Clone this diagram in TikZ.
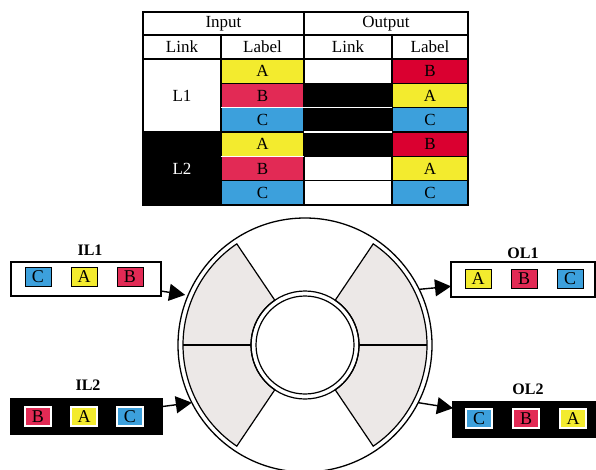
\documentclass[tikz,border=0pt]{standalone}
\usepackage{fontspec}
\setmainfont{Liberation Serif}
\usetikzlibrary{positioning, arrows.meta}
\definecolor{tagyellow}{HTML}{F3EB2E}
\definecolor{tagpink}{HTML}{E22A55}
\definecolor{tagblue}{HTML}{3CA0DC}
\definecolor{tagred}{HTML}{DA0030}
\definecolor{sectorgray}{HTML}{ECE8E7}

\begin{document}
\begin{tikzpicture}[x=1pt, y=-1pt, node distance=20pt,
	every node/.style={inner sep=0pt, outer sep=0pt, font=\fontsize{17}{17}\selectfont},
	cell/.style={draw, line width=1.2pt, minimum height=24.33pt},
	tag/.style={draw, line width=1pt, minimum width=26pt, minimum height=19pt, font=\fontsize{18}{18}\selectfont},
	linkbox/.style={draw, line width=1.5pt, minimum height=35pt},
	boxname/.style={font=\bfseries\fontsize{16}{16}\selectfont},
	sector/.style={draw, line width=1.2pt, fill=sectorgray},
	arr/.style={-{Triangle[length=16pt, width=17pt]}, line width=1.4pt}]
	\useasboundingbox (0,0) rectangle (596,469);
	\clip (0,0) rectangle (596,469);
	% table
	\node[cell, minimum width=161pt, minimum height=23pt] (hin) at (223.5,23.5) {Input};
	\node[cell, minimum width=164pt, minimum height=23pt] (hout) at (386,23.5) {Output};
	\node[cell, minimum width=78pt, minimum height=24pt] (hinlink) at (182,47) {Link};
	\node[cell, minimum width=83pt, minimum height=24pt] (hinlab) at (262.5,47) {Label};
	\node[cell, minimum width=88pt, minimum height=24pt] (houtlink) at (348,47) {Link};
	\node[cell, minimum width=76pt, minimum height=24pt] (houtlab) at (430,47) {Label};
	\node[cell, minimum width=78pt, minimum height=73pt] (l1) at (182,95.5) {L1};
	\node[cell, fill=black, text=white, minimum width=78pt, minimum height=73pt] (l2) at (182,168.5) {L2};
	\foreach \lab/\col [count=\r] in {A/tagyellow, B/tagpink, C/tagblue, A/tagyellow, B/tagpink, C/tagblue}
		\node[cell, fill=\col, minimum width=83pt] (inlab\r) at (262.5,{59+24.33*(\r-0.5)}) {\lab};
	\foreach \col [count=\r] in {white, black, black, black, white, white}
		\node[cell, fill=\col, minimum width=88pt] (outlink\r) at (348,{59+24.33*(\r-0.5)}) {};
	\foreach \lab/\col [count=\r] in {B/tagred, A/tagyellow, C/tagblue, B/tagred, A/tagyellow, C/tagblue}
		\node[cell, fill=\col, minimum width=76pt] (outlab\r) at (430,{59+24.33*(\r-0.5)}) {\lab};
	\draw[white, line width=1.5pt] (inlab2.south west) -- (outlink2.south east);
	\draw[white, line width=1.5pt] (outlink3.south west) -- (outlink3.south east);
	\draw[white, line width=1.5pt] (inlab4.south west) -- (inlab4.south east);
	\draw[line width=2pt] (hin.north west) rectangle (outlab6.south east);
	% ring
	\node[circle, draw, line width=1.3pt, minimum size=254pt] (ring) at (305,345) {};
	\foreach \a in {124,-56} {
		\draw[sector] ([shift={(\a:54pt)}]ring.center) arc[start angle=\a, end angle={\a+112}, radius=54pt]
			-- ([shift={({\a+112}:122pt)}]ring.center) arc[start angle={\a+112}, end angle=\a, radius=122pt] -- cycle;
		\draw[line width=1.2pt] ([shift={({\a+56}:54pt)}]ring.center) -- ([shift={({\a+56}:122pt)}]ring.center);
	}
	\draw[line width=1.2pt] (ring.center) circle[radius=54pt];
	\draw[line width=1.2pt] (ring.center) circle[radius=49pt];
	% links
	\node[linkbox, minimum width=150pt, minimum height=34pt] (il1) at (86,279) {};
	\node[linkbox, fill=black, minimum width=151pt] (il2) at (86.5,416.5) {};
	\node[linkbox, minimum width=144pt] (ol1) at (523,279.5) {};
	\node[linkbox, fill=black, minimum width=143pt] (ol2) at (524.5,419.5) {};
	\node[boxname] at (90,250) {IL1};
	\node[boxname] at (88,385) {IL2};
	\node[boxname] at (523,253) {OL1};
	\node[boxname] at (528,389) {OL2};
	\node[tag, fill=tagblue] (il1c) at (38,277) {C};
	\node[tag, fill=tagyellow, right=of il1c] (il1a) {A};
	\node[tag, fill=tagpink, right=of il1a] (il1b) {B};
	\node[tag, draw=white, line width=1.5pt, fill=tagpink] (il2b) at (38,416.5) {B};
	\node[tag, draw=white, line width=1.5pt, fill=tagyellow, right=of il2b] (il2a) {A};
	\node[tag, draw=white, line width=1.5pt, fill=tagblue, right=of il2a] (il2c) {C};
	\node[tag, fill=tagyellow] (ol1a) at (478,279) {A};
	\node[tag, fill=tagpink, right=of ol1a] (ol1b) {B};
	\node[tag, fill=tagblue, right=of ol1b] (ol1c) {C};
	\node[tag, draw=white, line width=1.5pt, fill=tagblue] (ol2c) at (479,418.5) {C};
	\node[tag, draw=white, line width=1.5pt, fill=tagpink, right=21pt of ol2c] (ol2b) {B};
	\node[tag, draw=white, line width=1.5pt, fill=tagyellow, right=21pt of ol2b] (ol2a) {A};
	\draw[arr, shorten >=3pt] (il1) -- (ring.157);
	\draw[arr] (il2) -- (ring.207);
	\draw[arr] (ring.26) -- (ol1);
	\draw[arr] (ring.-27) -- (ol2);
\end{tikzpicture}
\end{document}
